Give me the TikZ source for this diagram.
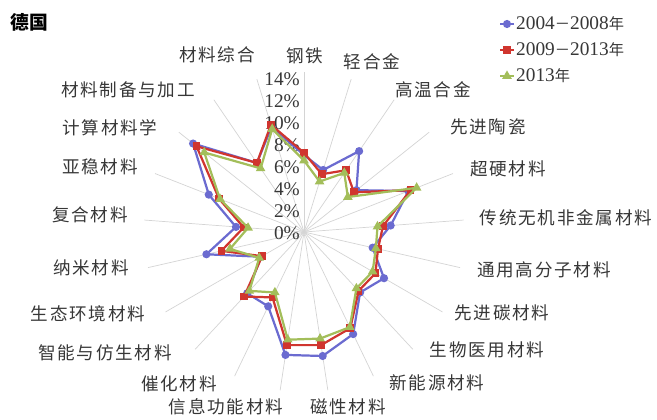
\documentclass[tikz,border=0pt]{standalone}
\usepackage{fontspec}
\setmainfont{Liberation Serif}
\newfontfamily\cjk[LetterSpace=10]{Noto Sans CJK SC}
\newfontfamily\cjkplain{Noto Sans CJK SC}
\usetikzlibrary{calc}
\usetikzlibrary{shapes.geometric}
\definecolor{serA}{RGB}{107,107,208}
\definecolor{serB}{RGB}{208,53,47}
\definecolor{serC}{RGB}{163,190,90}
\definecolor{spokegray}{RGB}{212,212,212}
\definecolor{txtgray}{RGB}{55,55,55}

\begin{document}
\begin{tikzpicture}[x=0.03cm,y=-0.03cm,
    spokeline/.style={spokegray,line width=0.6pt},
    serline/.style={line width=1.9pt,line join=round},
    cmark/.style={circle,fill=serA,inner sep=0pt,minimum size=7pt},
    smark/.style={rectangle,fill=serB,inner sep=0pt,minimum size=6.5pt},
    tmark/.style={regular polygon,regular polygon sides=3,fill=serC,inner sep=0pt,minimum size=9.5pt},
    axlabel/.style={font=\fontsize{15}{15}\cjk,text=txtgray},
    pctlabel/.style={font=\fontsize{16.5}{16.5}\selectfont,text=txtgray,anchor=east,inner sep=0pt},
    leglabel/.style={font=\fontsize{16.5}{16.5}\selectfont,text=txtgray,anchor=west,inner sep=0pt}]

  \useasboundingbox (0,0) rectangle (657,419);
  \coordinate (O) at (304,232);

  % spokes
  \foreach \k in {0,...,20}
    \draw [spokeline] (O) -- ($(O)+({\k*360/21-90}:160)$);

  % percent labels
  \foreach \p [count=\j from 0] in {0,2,...,14}
    \node [pctlabel] (pct\p) at (300,{233-22*\j}) {\p\%};

  % 2004-2008
  \foreach \v [count=\i from 0] in {7.0,5.9,8.9,6.1,10.2,7.9,6.4,8.4,7.5,10.3,11.4,11.3,7.5,7.6,4.5,9.1,6.2,9.3,12.9,7.6,10.0}
    \coordinate (a\i) at ($(O)+({\i*360/21-90}:{\v*11})$);
  \draw [serline,serA] (a0) \foreach \i in {1,...,20}{-- (a\i)} -- cycle;
  \foreach \i in {0,...,20} \node [cmark] at (a\i) {};

  % 2009-2013
  \foreach \v [count=\i from 0] in {7.2,5.5,6.8,5.8,10.4,7.2,6.9,7.5,7.3,9.7,10.4,10.4,6.6,8.0,4.4,7.7,5.5,8.3,12.5,7.6,10.2}
    \coordinate (b\i) at ($(O)+({\i*360/21-90}:{\v*11})$);
  \draw [serline,serB] (b0) \foreach \i in {1,...,20}{-- (b\i)} -- cycle;
  \foreach \i in {0,...,20} \node [smark] at (b\i) {};

  % 2013
  \foreach \v [count=\i from 0] in {6.5,4.8,6.5,5.1,11.0,6.7,6.7,7.2,7.0,9.6,9.8,9.9,6.1,7.3,4.7,6.9,5.1,8.2,11.6,7.0,9.8}
    \coordinate (c\i) at ($(O)+({\i*360/21-90}:{\v*11})$);
  \draw [serline,serC] (c0) \foreach \i in {1,...,20}{-- (c\i)} -- cycle;
  \foreach \i in {0,...,20} \node [tmark] at (c\i) {};

  % axis labels
  \foreach \t/\x/\y [count=\n] in {钢铁/305/56, 轻合金/372/62, 高温合金/433/90,
      先进陶瓷/488/127, 超硬材料/508/169, 传统无机非金属材料/566/218,
      通用高分子材料/544/270, 先进碳材料/502/313, 生物医用材料/487/350,
      新能源材料/437/383, 磁性材料/348/407, 信息功能材料/226/407,
      催化材料/179/384, 智能与仿生材料/105/353, 生态环境材料/88/314,
      纳米材料/91/268, 复合材料/90/215, 亚稳材料/100/167,
      计算材料学/110/128, 材料制备与加工/128/90, 材料综合/217/55}
    \node [axlabel] (lab\n) at (\x,\y) {\t};

  \node [font=\fontsize{16}{16}\cjkplain\bfseries] (title) at (29,22) {德国};

  % legend
  \coordinate (la1) at (500,24); \coordinate (la2) at (514,24);
  \coordinate (lb1) at (500,50); \coordinate (lb2) at (514,50);
  \coordinate (lc1) at (500,76); \coordinate (lc2) at (514,76);
  \draw [serline,serA] (la1) -- (la2) node [midway,cmark] {};
  \draw [serline,serB] (lb1) -- (lb2) node [midway,smark] {};
  \draw [serline,serC] (lc1) -- (lc2) node [midway,tmark] {};
  \node [leglabel] (legA) at (516,24) {2004{\fontsize{13}{13}\cjkplain －}2008{\fontsize{13}{13}\cjkplain 年}};
  \node [leglabel] (legB) at (516,50) {2009{\fontsize{13}{13}\cjkplain －}2013{\fontsize{13}{13}\cjkplain 年}};
  \node [leglabel] (legC) at (516,76) {2013{\fontsize{13}{13}\cjkplain 年}};
\end{tikzpicture}
\end{document}
